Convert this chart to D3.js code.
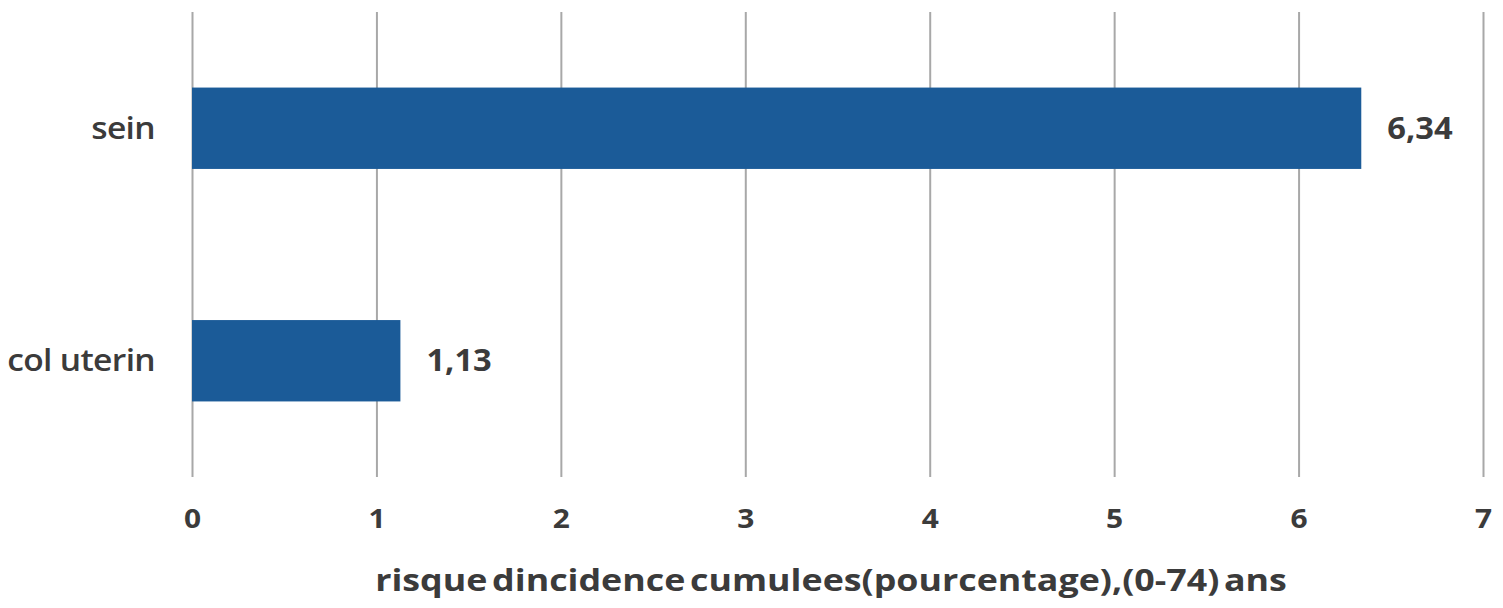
<!DOCTYPE html>
<html>
<head>
<meta charset="utf-8">
<script src="https://cdn.jsdelivr.net/npm/d3@7"></script>
<style>
  html, body { margin: 0; padding: 0; background: #ffffff; }
  svg { display: block; }
  text { font-family: "Open Sans", "DejaVu Sans", sans-serif; fill: #3b3b3b; }
</style>
</head>
<body>
<svg id="chart" width="1503" height="608"></svg>
<script>
// Risque d'incidence cumulé (0-74 ans), en pourcentage
const categories = ["sein", "col uterin"];
const values = [6.34, 1.13];
const valueLabels = ["6,34", "1,13"];
const xTicks = [0, 1, 2, 3, 4, 5, 6, 7];
const xTitle = "risque dincidence cumulees(pourcentage),(0-74) ans";

const svg = d3.select("#chart");
const plot = { left: 192, right: 1483, top: 12, bottom: 477 };
const stretch = 1.09;   // wide lettering

const x = d3.scaleLinear().domain([0, 7]).range([plot.left, plot.right]);
const y = d3.scaleBand()
  .domain(categories)
  .range([plot.top, plot.bottom])
  .paddingInner(0.65)
  .paddingOuter(0.325);

// vertical gridlines + tick labels
const axis = d3.axisBottom(x)
  .tickValues(xTicks)
  .tickFormat(d3.format("d"))
  .tickSizeInner(-(plot.bottom - plot.top))
  .tickSizeOuter(0)
  .tickPadding(33);

const gAxis = svg.append("g")
  .attr("transform", `translate(0,${plot.bottom})`)
  .call(axis);
gAxis.select(".domain").remove();
gAxis.selectAll(".tick line")
  .attr("stroke", "#a8a8a8")
  .attr("stroke-width", 2);
gAxis.selectAll(".tick text")
  .attr("font-size", 26)
  .attr("font-weight", 700)
  .attr("fill", "#3b3b3b")
  .attr("font-family", "'Open Sans', sans-serif")
  .attr("transform", `scale(1.15,1)`);

// bars
svg.append("g").selectAll("rect")
  .data(categories)
  .join("rect")
  .attr("x", x(0))
  .attr("y", d => y(d))
  .attr("width", (d, i) => x(values[i]) - x(0))
  .attr("height", y.bandwidth())
  .attr("fill", "#1b5b98");

// category labels
svg.append("g").selectAll("g")
  .data(categories)
  .join("g")
  .attr("transform", d => `translate(155,${y(d) + y.bandwidth() / 2}) scale(1.12,1)`)
  .append("text")
  .attr("dy", "0.35em")
  .attr("text-anchor", "end")
  .attr("font-size", 30)
  .attr("font-weight", 600)
  .attr("letter-spacing", -0.6)
  .text(d => d);

// value labels
svg.append("g").selectAll("g")
  .data(categories)
  .join("g")
  .attr("transform", (d, i) => `translate(${x(values[i]) + 26},${y(d) + y.bandwidth() / 2}) scale(${stretch},1)`)
  .append("text")
  .attr("dy", "0.35em")
  .attr("font-size", 30)
  .attr("font-weight", 700)
  .text((d, i) => valueLabels[i]);

// axis title
svg.append("g")
  .attr("transform", `translate(831,591) scale(1.155,1)`)
  .append("text")
  .attr("text-anchor", "middle")
  .attr("font-size", 31)
  .attr("font-weight", 700)
  .attr("word-spacing", -4)
  .text(xTitle);
</script>
</body>
</html>
